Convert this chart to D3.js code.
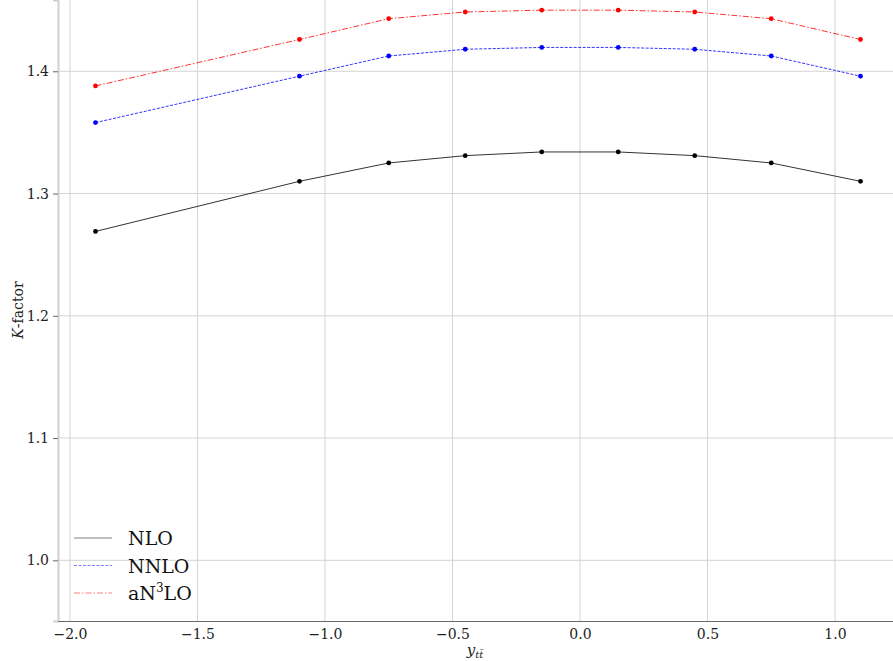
<!DOCTYPE html>
<html><head><meta charset="utf-8">
<script src="https://cdn.jsdelivr.net/npm/d3@7"></script>
<style>body{margin:0;background:#fff}svg{display:block}</style>
</head><body>
<script>
const xVals = [-1.9, -1.1, -0.75, -0.45, -0.15, 0.15, 0.45, 0.75, 1.1];
const nlo   = [1.269, 1.310, 1.325, 1.331, 1.334, 1.334, 1.331, 1.325, 1.310];
const nnlo  = [1.358, 1.396, 1.4125, 1.418, 1.4195, 1.4195, 1.418, 1.4125, 1.396];
const an3lo = [1.388, 1.426, 1.443, 1.4485, 1.450, 1.450, 1.4485, 1.443, 1.426];
const xTicks = [-2.0, -1.5, -1.0, -0.5, 0.0, 0.5, 1.0];
const yTicks = [1.0, 1.1, 1.2, 1.3, 1.4];
const seriesNames = ["NLO", "NNLO", "aN³LO"];

const W = 893, H = 661;
const L = 58, R = 893, T = 0, B = 621;
const svg = d3.select("body").append("svg").attr("width", W).attr("height", H);
const font = "'DejaVu Serif', serif";

const x = d3.scaleLinear().domain([-2.047, 1.2275]).range([L, R]);
const y = d3.scaleLinear().domain([0.95035, 1.4583]).range([B, T]);

// grid
svg.append("g").selectAll("line.v").data(xTicks).join("line")
  .attr("x1", d => x(d)).attr("x2", d => x(d)).attr("y1", T).attr("y2", B)
  .attr("stroke", "#d4d4d4").attr("stroke-width", 1);
svg.append("g").selectAll("line.h").data(yTicks).join("line")
  .attr("x1", L).attr("x2", R).attr("y1", d => y(d)).attr("y2", d => y(d))
  .attr("stroke", "#d4d4d4").attr("stroke-width", 1);

// axes
const fmt = d => d3.format(".1f")(d).replace("-", "\u2212");
const yAxis = svg.append("g").attr("transform", `translate(${L},0)`)
  .call(d3.axisLeft(y).tickValues(yTicks).tickFormat(fmt).tickSize(5).tickPadding(4));
yAxis.attr("font-family", font);
yAxis.select(".domain").attr("stroke", "#d0d0d0").attr("stroke-width", 2);
yAxis.selectAll(".tick line").attr("stroke", "#666");
yAxis.selectAll("text").attr("font-family", font).attr("font-size", 14).attr("fill", "#222");

const xAxis = svg.append("g").attr("transform", `translate(0,${B})`)
  .call(d3.axisBottom(x).tickValues(xTicks).tickFormat(fmt).tickSize(0).tickPadding(8));
xAxis.attr("font-family", font);
xAxis.select(".domain").attr("stroke", "#666").attr("stroke-width", 1.2);
xAxis.selectAll("text").attr("font-family", font).attr("font-size", 14).attr("fill", "#222");

// labels
svg.append("text").attr("transform", `translate(23,${310}) rotate(-90)`)
  .attr("text-anchor", "middle").attr("font-family", font).attr("font-size", 14).attr("fill", "#222")
  .html('<tspan font-style="italic">K</tspan>-factor');
svg.append("text").attr("x", 475).attr("y", 655).attr("text-anchor", "middle")
  .attr("font-family", font).attr("font-size", 15).attr("font-style", "italic").attr("fill", "#222")
  .html('y<tspan font-size="10" dy="3">tt̄</tspan>');

// series
const series = [
  {name: seriesNames[0], vals: nlo, color: "#000", dash: null},
  {name: seriesNames[1], vals: nnlo, color: "#0000ff", dash: "3,1.5"},
  {name: seriesNames[2], vals: an3lo, color: "#ff0000", dash: "6,2,1.5,2"}
];
const line = d3.line().x(d => x(d[0])).y(d => y(d[1]));
series.forEach(s => {
  const pts = xVals.map((xv, i) => [xv, s.vals[i]]);
  svg.append("path").datum(pts).attr("d", line).attr("fill", "none")
    .attr("stroke", s.color).attr("stroke-width", 1).attr("stroke-opacity", 0.8)
    .attr("stroke-dasharray", s.dash);
  svg.append("g").selectAll("circle").data(pts).join("circle")
    .attr("cx", d => x(d[0])).attr("cy", d => y(d[1])).attr("r", 2.4).attr("fill", s.color);
});

// legend
series.forEach((s, i) => {
  const ly = 538 + i * 27.5;
  svg.append("line").attr("x1", 74).attr("x2", 112).attr("y1", ly).attr("y2", ly)
    .attr("stroke", s.color).attr("stroke-width", 1).attr("stroke-opacity", 0.5)
    .attr("stroke-dasharray", s.dash);
  const t = svg.append("text").attr("x", 128).attr("y", ly + 7).attr("font-family", font)
    .attr("font-size", 19).attr("fill", "#111");
  if (i === 2) t.html('aN<tspan font-size="12" dy="-8">3</tspan><tspan dy="8">LO</tspan>');
  else t.text(s.name);
});
</script>
</body></html>
